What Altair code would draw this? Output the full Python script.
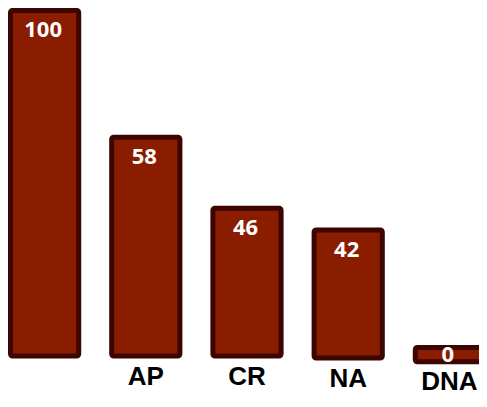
import altair as alt
import pandas as pd

# Data
categories = ["", "AP", "CR", "NA", "DNA"]
value_labels = [100, 58, 46, 42, 0]
bar_top = [100, 63.3, 42.8, 36.5, 2.5]
bar_bottom = [0, 0, 0, -0.55, -1.66]

df = pd.DataFrame({
    "category": categories,
    "label": value_labels,
    "top": bar_top,
    "bottom": bar_bottom,
})

x_enc = alt.X("category:N", sort=None, axis=None,
              scale=alt.Scale(range=[2.5, 475.5], paddingInner=0.326, paddingOuter=0))
y_scale = alt.Scale(domain=[0, 100], range=[348.1, 2.4], nice=False, zero=False)

bars = alt.Chart(df).mark_bar(
    color="#8a1c00", stroke="#3d0500", strokeWidth=5, cornerRadius=2
).encode(
    x=x_enc,
    y=alt.Y("top:Q", scale=y_scale, axis=None),
    y2="bottom:Q",
)

values = alt.Chart(df).transform_calculate(
    label_y="datum.top - datum.bottom < 10 ? datum.top + 3.7 : datum.top"
).mark_text(
    font="Open Sans", fontWeight="bold", fontSize=22, color="white",
    baseline="top", align="center", dy=10, dx=-1.5
).encode(
    x=alt.X("category:N", sort=None, axis=None),
    y=alt.Y("label_y:Q", axis=None),
    text="label:N",
)

cats = alt.Chart(df).mark_text(
    font="Liberation Sans", fontWeight="bold", fontSize=26, color="black",
    baseline="top", align="center", dy=7.5
).encode(
    x=alt.X("category:N", sort=None, axis=None),
    y=alt.Y("bottom:Q", axis=None),
    text="category:N",
)

chart = alt.layer(bars, values, cats).properties(
    width=471, height=390, padding=0, autosize=alt.AutoSizeParams(type="none")
).configure_view(stroke=None)

chart.save("out.html", embed_options={"renderer": "svg", "actions": False})
